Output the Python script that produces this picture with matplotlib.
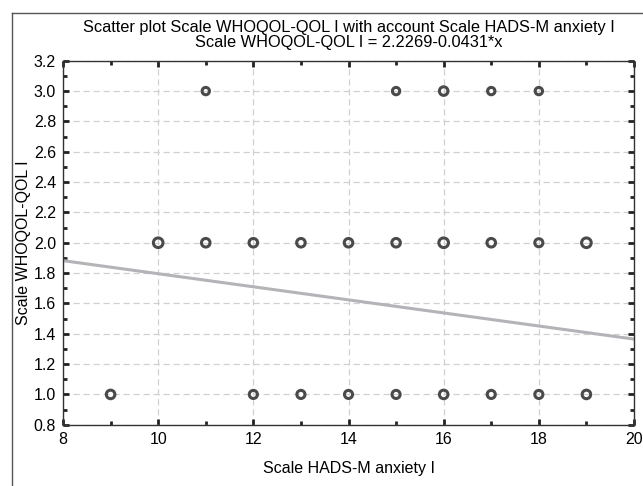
import numpy as np
import matplotlib.pyplot as plt
from matplotlib.lines import Line2D
from matplotlib.ticker import MultipleLocator

plt.rcParams['font.family'] = ['Liberation Sans', 'DejaVu Sans']

# Daten: HADS-M anxiety (x) und WHOQOL-QOL (y)
x_q3 = [11, 15, 16, 17, 18]
x_q2 = [10, 11, 12, 13, 14, 15, 16, 17, 18, 19]
x_q1 = [9, 12, 13, 14, 15, 16, 17, 18, 19]
# groessere Kreise = mehrere Faelle am selben Punkt
s_q3 = [28, 28, 38, 28, 28]
s_q2 = [48, 38, 38, 38, 38, 38, 48, 38, 34, 48]
s_q1 = [38, 34, 34, 34, 34, 38, 34, 34, 38]

intercept = 2.2269
slope = -0.0431

fig = plt.figure(figsize=(6.43, 4.86), dpi=100)
ax = fig.add_axes([0.098, 0.126, 0.888, 0.749])

mk = dict(facecolors='none', edgecolors='#4a4a4a', linewidths=2.2, zorder=3)
ax.scatter(x_q3, [3.0] * len(x_q3), s=s_q3, **mk)
ax.scatter(x_q2, [2.0] * len(x_q2), s=s_q2, **mk)
ax.scatter(x_q1, [1.0] * len(x_q1), s=s_q1, **mk)

xl = np.array([8, 20])
ax.plot(xl, intercept + slope * xl, color='#b4b4b8', lw=2.2, zorder=2)

ax.set_xlim(8, 20)
ax.set_ylim(0.8, 3.2)
ax.xaxis.set_major_locator(MultipleLocator(2))
ax.xaxis.set_minor_locator(MultipleLocator(1))
ax.yaxis.set_major_locator(MultipleLocator(0.2))
ax.yaxis.set_minor_locator(MultipleLocator(0.1))
ax.yaxis.set_major_formatter(plt.FormatStrFormatter('%.1f'))
ax.tick_params(which='both', direction='in', top=True, right=True,
               width=2, color='#222222', labelsize=11.5)
ax.tick_params(which='major', length=4)
ax.tick_params(which='minor', length=3)
ax.tick_params(axis='x', which='major', pad=5)
ax.tick_params(axis='y', which='major', pad=5)
ax.grid(True, which='major', color='#d0d0d0', ls=(0, (5, 3)), lw=0.9)
for sp in ax.spines.values():
    sp.set_color('#333333')
    sp.set_linewidth(1.0)

ax.set_xlabel('Scale HADS-M anxiety I', fontsize=11.5, labelpad=10)
ax.set_ylabel('Scale WHOQOL-QOL I', fontsize=11.5)
ax.yaxis.set_label_coords(-0.056, 0.5)
ax.set_title('Scatter plot Scale WHOQOL-QOL I with account Scale HADS-M anxiety I\n'
             'Scale WHOQOL-QOL I = 2.2269-0.0431*x', fontsize=11.8, pad=10,
             linespacing=1.0)

# Rahmen (nur oben und links sichtbar)
fig.add_artist(Line2D([12 / 643, 1], [1 - 13 / 486] * 2, color='#555555', lw=1.0))
fig.add_artist(Line2D([12 / 643] * 2, [0, 1 - 13 / 486], color='#555555', lw=1.0))

fig.savefig('out.png', dpi=100)
